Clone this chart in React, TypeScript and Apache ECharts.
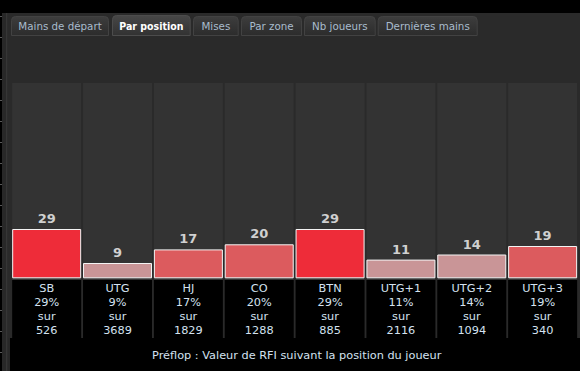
import React, { useEffect, useRef } from "react";
import * as echarts from "echarts";

const positions = ["SB", "UTG", "HJ", "CO", "BTN", "UTG+1", "UTG+2", "UTG+3"];
const rfiValues = [29, 9, 17, 20, 29, 11, 14, 19];
const handCounts = [526, 3689, 1829, 1288, 885, 2116, 1094, 340];
const tabLabels = ["Mains de départ", "Par position", "Mises", "Par zone", "Nb joueurs", "Dernières mains"];
const activeTab = "Par position";
const captionText = "Préflop : Valeur de RFI suivant la position du joueur";

function barColor(v: number): string {
  if (v >= 25) return "#ee2c39";
  if (v >= 15) return "#dc5b5e";
  return "#c99597";
}

export default function App() {
  const ref = useRef<HTMLDivElement>(null);
  useEffect(() => {
    document.body.style.margin = "0";
    const chart = echarts.init(ref.current!, null, { renderer: "svg", width: 580, height: 371 });
    const FONT = "'DejaVu Sans', sans-serif";
    const tabX = [
      [11, 109],
      [112, 190.7],
      [193, 238.7],
      [241, 302],
      [304, 375.7],
      [377.7, 477.7],
    ];
    const g: any[] = [];
    g.push({ type: "rect", z: -20, shape: { x: 2, y: 13, width: 8, height: 358 }, style: { fill: "#282828" } });
    g.push({ type: "rect", z: -19, shape: { x: 6, y: 13, width: 1.3, height: 358 }, style: { fill: "#363636" } });
    for (let y = 16; y < 371; y += 21) {
      g.push({ type: "line", z: -18, shape: { x1: 0, y1: y + 0.5, x2: 2, y2: y + 0.5 }, style: { stroke: "#5a5a5a", lineWidth: 1 } });
    }
    g.push({ type: "rect", z: -17, shape: { x: 8, y: 13, width: 572, height: 325 }, style: { fill: "#2a2a2a" } });
    g.push({ type: "rect", z: -16, shape: { x: 10, y: 338, width: 570, height: 33 }, style: { fill: "#000000" } });
    tabLabels.forEach((label, i) => {
      const active = label === activeTab;
      const [x0, x1] = tabX[i];
      const top = active ? 15 : 16;
      g.push({
        type: "rect",
        z: -15,
        shape: { x: x0 + 0.5, y: top + 0.5, width: x1 - x0 - 1, height: 35 - top, r: [4, 4, 0, 0] },
        style: {
          fill: new echarts.graphic.LinearGradient(0, 0, 0, 1, [
            { offset: 0, color: active ? "#474747" : "#3d3d3d" },
            { offset: 1, color: active ? "#323232" : "#2c2c2c" },
          ]),
          stroke: active ? "#4c4c4c" : "#424242",
          lineWidth: 1,
        },
      });
      g.push({
        type: "text",
        z: -14,
        x: (x0 + x1) / 2,
        y: 26,
        style: {
          text: label,
          fill: active ? "#ffffff" : "#a9bccd",
          font: active ? `bold 10.5px 'DejaVu Sans Condensed', 'DejaVu Sans', sans-serif` : `10.3px ${FONT}`,
          align: "center",
          verticalAlign: "middle",
        },
      });
    });
    g.push({
      type: "text",
      z: 10,
      x: 296.7,
      y: 355.5,
      style: {
        text: captionText,
        fill: "#d4e2f0",
        font: `11.3px ${FONT}`,
        align: "center",
        verticalAlign: "middle",
      },
    });

    chart.setOption({
      animation: false,
      backgroundColor: "#000000",
      graphic: { elements: g },
      grid: { left: 11.25, width: 568.8, top: 83, height: 197 },
      xAxis: {
        type: "category",
        data: positions,
        axisLine: { show: false, onZero: false },
        axisTick: { show: false },
        axisLabel: {
          interval: 0,
          margin: 0,
          color: "#d4e2f0",
          fontSize: 11.3,
          fontFamily: FONT,
          lineHeight: 14,
          backgroundColor: "#000000",
          width: 69,
          padding: [1, 0, 1, 0],
          align: "center",
          formatter: (value: string, index: number) =>
            `${value}\n${rfiValues[index]}%\nsur\n${handCounts[index]}`,
        },
      },
      yAxis: { type: "value", min: -1, max: 114.9, show: false },
      series: [
        {
          type: "bar",
          barWidth: 69,
          showBackground: true,
          backgroundStyle: { color: "#333333" },
          data: rfiValues.map((v) => ({ value: v, itemStyle: { color: barColor(v) } })),
          itemStyle: { borderColor: "#f4f4f4", borderWidth: 1 },
          label: {
            show: true,
            position: "top",
            distance: 4,
            color: "#d0d0d0",
            fontWeight: "bold",
            fontSize: 13,
            fontFamily: FONT,
          },
        },
      ],
    });
    return () => chart.dispose();
  }, []);
  return <div ref={ref} style={{ width: 580, height: 371, position: "fixed", left: 0, top: 0 }} />;
}
